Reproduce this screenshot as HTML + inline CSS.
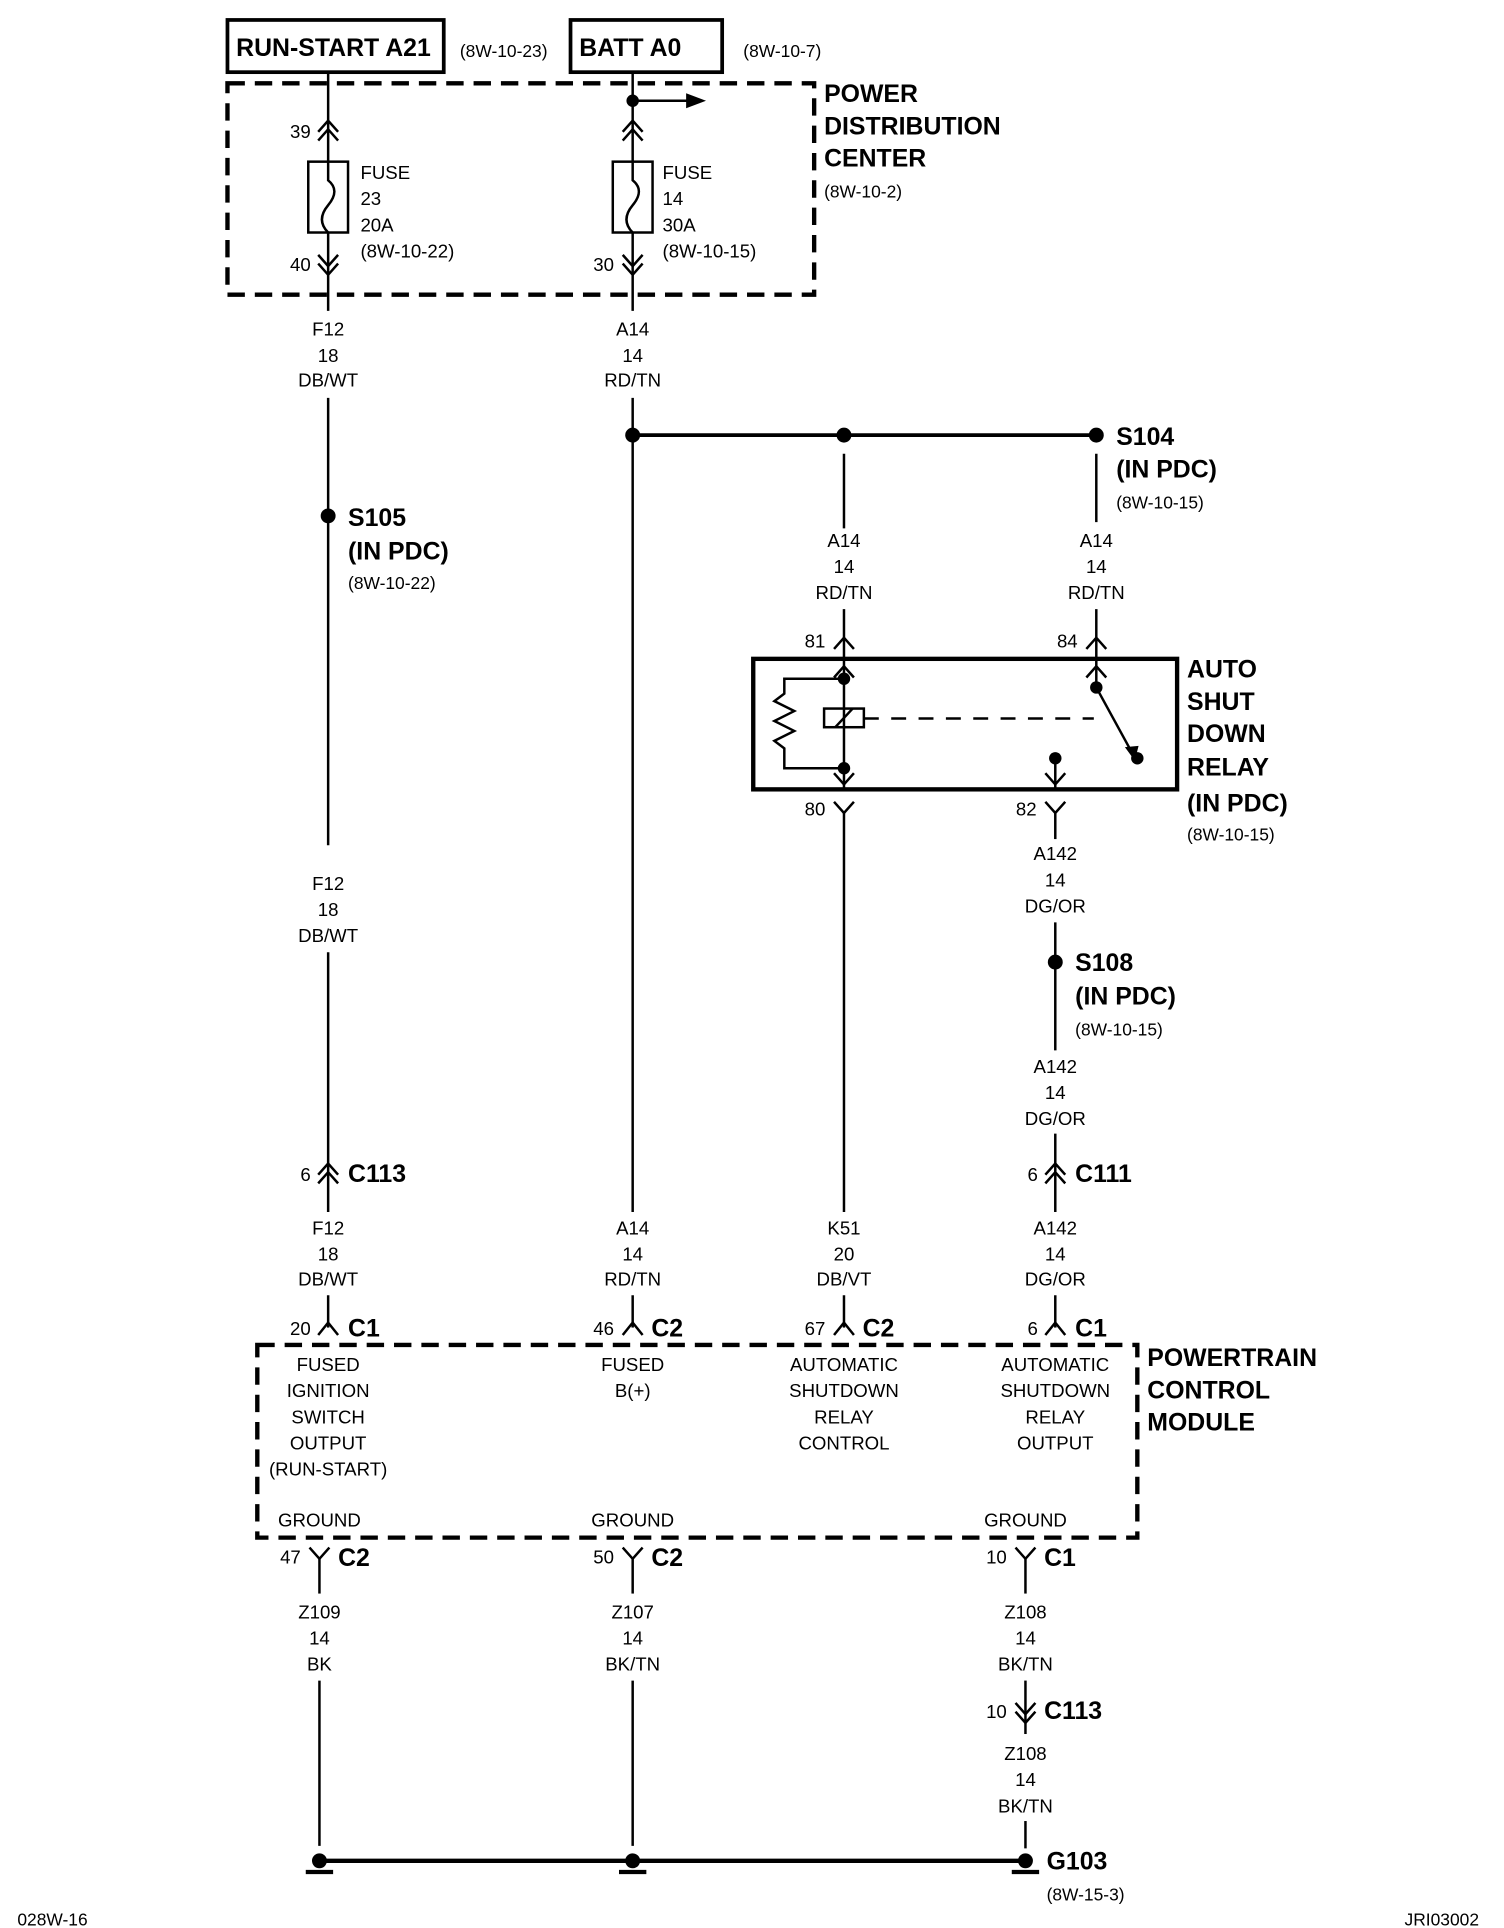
<!DOCTYPE html>
<html><head><meta charset="utf-8"><style>
html,body{margin:0;padding:0;background:#fff;}
svg{display:block;}
text{font-family:"Liberation Sans Narrow","Liberation Sans",sans-serif;fill:#000;}
.w{font-size:15px;text-anchor:middle;}
.s{font-size:14px;}
.b{font-size:20px;font-weight:bold;}
.c{font-size:15px;text-anchor:end;}
</style></head><body>
<svg width="1504" height="1928" viewBox="0 0 1210 1551" xmlns="http://www.w3.org/2000/svg">
<g stroke="#000" stroke-width="2" fill="none">
<!-- top boxes -->
<rect x="183" y="16" width="174" height="42" stroke-width="3"/>
<rect x="459" y="16" width="122" height="42" stroke-width="3"/>
<rect x="183" y="67" width="472" height="170" stroke-width="3.5" stroke-dasharray="14,8"/>
<rect x="207" y="1082" width="708" height="155" stroke-width="3.5" stroke-dasharray="14,8"/>
<!-- wire 264 -->
<line x1="264" y1="58" x2="264" y2="250"/>
<line x1="264" y1="320" x2="264" y2="680"/>
<line x1="264" y1="766" x2="264" y2="975"/>
<line x1="264" y1="1042" x2="264" y2="1068"/>
<rect x="248" y="130" width="32" height="57" fill="#fff"/>
<path d="M264 130v15q10 8 0 20t0 22"/>
<path d="M256 106l8-9 8 9M256 113l8-9 8 9"/>
<path d="M256 205l8 9 8-9M256 212l8 9 8-9"/>
<!-- wire 509 -->
<line x1="509" y1="58" x2="509" y2="250"/>
<line x1="509" y1="320" x2="509" y2="975"/>
<line x1="509" y1="1042" x2="509" y2="1068"/>
<line x1="509" y1="81" x2="555" y2="81"/>
<rect x="493" y="130" width="32" height="57" fill="#fff"/>
<path d="M509 130v15q10 8 0 20t0 22"/>
<path d="M501 106l8-9 8 9M501 113l8-9 8 9"/>
<path d="M501 205l8 9 8-9M501 212l8 9 8-9"/>
<!-- bus 350 -->
<line x1="509" y1="350" x2="882" y2="350" stroke-width="3"/>
<line x1="679" y1="365" x2="679" y2="425"/>
<line x1="882" y1="365" x2="882" y2="420"/>
<line x1="679" y1="490" x2="679" y2="635"/>
<line x1="882" y1="490" x2="882" y2="553"/>
<path d="M671 522l8-9 8 9M874 522l8-9 8 9"/>
<path d="M671 545l8-9 8 9M874 545l8-9 8 9"/>
<!-- relay -->
<rect x="606" y="530" width="341" height="105" stroke-width="3.5"/>
<path d="M679 546h-48v12l-8 6 16 8-16 8 16 8-16 8 8 6v16h48"/>
<rect x="663" y="570" width="32" height="15"/>
<line x1="672" y1="585" x2="686" y2="570"/>
<line x1="695" y1="578" x2="880" y2="578" stroke-dasharray="12,10"/>
<line x1="882" y1="553" x2="911" y2="606"/>
<line x1="849" y1="610" x2="849" y2="635"/>
<path d="M841 622l8 9 8-9M671 622l8 9 8-9"/>
<path d="M671 645l8 9 8-9M841 645l8 9 8-9"/>
<line x1="679" y1="654" x2="679" y2="975"/>
<line x1="849" y1="654" x2="849" y2="675"/>
<line x1="849" y1="742" x2="849" y2="845"/>
<line x1="849" y1="912" x2="849" y2="975"/>
<line x1="849" y1="1042" x2="849" y2="1068"/>
<line x1="679" y1="1042" x2="679" y2="1068"/>
<!-- C113/C111 -->
<path d="M256 945l8-9 8 9M256 952l8-9 8 9"/>
<path d="M841 945l8-9 8 9M841 952l8-9 8 9"/>
<!-- PCM top connectors -->
<path d="M256 1074l8-10 8 10M501 1074l8-10 8 10M671 1074l8-10 8 10M841 1074l8-10 8 10"/>
<!-- ground -->
<path d="M249 1245l8 9 8-9M501 1245l8 9 8-9M817 1245l8 9 8-9"/>
<line x1="257" y1="1254" x2="257" y2="1282"/>
<line x1="509" y1="1254" x2="509" y2="1282"/>
<line x1="825" y1="1254" x2="825" y2="1282"/>
<line x1="257" y1="1352" x2="257" y2="1485"/>
<line x1="509" y1="1352" x2="509" y2="1485"/>
<line x1="825" y1="1352" x2="825" y2="1395"/>
<path d="M817 1370l8 9 8-9M817 1377l8 9 8-9"/>
<line x1="825" y1="1465" x2="825" y2="1487"/>
<line x1="262" y1="1497" x2="820" y2="1497" stroke-width="3.5"/>
<path d="M246 1506h22M498 1506h22M814 1506h22" stroke-width="3.5"/>
</g>
<g fill="#000">
<polygon points="552,75 568,81 552,87"/>
<circle cx="509" cy="81" r="5"/>
<circle cx="509" cy="350" r="6"/><circle cx="679" cy="350" r="6"/><circle cx="882" cy="350" r="6"/>
<circle cx="264" cy="415" r="6"/><circle cx="849" cy="774" r="6"/>
<circle cx="679" cy="546" r="5"/><circle cx="679" cy="618" r="5"/>
<circle cx="882" cy="553" r="5"/><circle cx="915" cy="610" r="5"/><circle cx="849" cy="610" r="5"/>
<polygon points="905,601 913,612 916,600"/>
<circle cx="257" cy="1497" r="6"/><circle cx="509" cy="1497" r="6"/><circle cx="825" cy="1497" r="6"/>
</g>
<text class="b" x="190" y="45">RUN-START A21</text>
<text class="s" x="370" y="46">(8W-10-23)</text>
<text class="b" x="466" y="45">BATT A0</text>
<text class="s" x="598" y="46">(8W-10-7)</text>
<text class="b" x="663" y="82">POWER</text>
<text class="b" x="663" y="108">DISTRIBUTION</text>
<text class="b" x="663" y="134">CENTER</text>
<text class="s" x="663" y="159">(8W-10-2)</text>
<text class="c" x="250" y="111">39</text><text class="c" x="250" y="218">40</text>
<text class="c" x="494" y="218">30</text>
<text class="w" x="290" y="144" text-anchor="start" style="text-anchor:start">FUSE</text>
<text class="w" x="290" y="165" style="text-anchor:start">23</text>
<text class="w" x="290" y="186" style="text-anchor:start">20A</text>
<text class="w" x="290" y="207" style="text-anchor:start">(8W-10-22)</text>
<text class="w" x="533" y="144" style="text-anchor:start">FUSE</text>
<text class="w" x="533" y="165" style="text-anchor:start">14</text>
<text class="w" x="533" y="186" style="text-anchor:start">30A</text>
<text class="w" x="533" y="207" style="text-anchor:start">(8W-10-15)</text>
<text class="w" x="264" y="270">F12</text><text class="w" x="264" y="291">18</text><text class="w" x="264" y="311">DB/WT</text>
<text class="w" x="509" y="270">A14</text><text class="w" x="509" y="291">14</text><text class="w" x="509" y="311">RD/TN</text>
<text class="b" x="898" y="358">S104</text><text class="b" x="898" y="384">(IN PDC)</text><text class="s" x="898" y="409">(8W-10-15)</text>
<text class="b" x="280" y="423">S105</text><text class="b" x="280" y="450">(IN PDC)</text><text class="s" x="280" y="474">(8W-10-22)</text>
<text class="w" x="679" y="440">A14</text><text class="w" x="679" y="461">14</text><text class="w" x="679" y="482">RD/TN</text>
<text class="w" x="882" y="440">A14</text><text class="w" x="882" y="461">14</text><text class="w" x="882" y="482">RD/TN</text>
<text class="c" x="664" y="521">81</text><text class="c" x="867" y="521">84</text>
<text class="c" x="664" y="656">80</text><text class="c" x="834" y="656">82</text>
<text class="b" x="955" y="545">AUTO</text><text class="b" x="955" y="571">SHUT</text><text class="b" x="955" y="597">DOWN</text><text class="b" x="955" y="624">RELAY</text><text class="b" x="955" y="653">(IN PDC)</text><text class="s" x="955" y="676">(8W-10-15)</text>
<text class="w" x="264" y="716">F12</text><text class="w" x="264" y="737">18</text><text class="w" x="264" y="758">DB/WT</text>
<text class="w" x="849" y="692">A142</text><text class="w" x="849" y="713">14</text><text class="w" x="849" y="734">DG/OR</text>
<text class="b" x="865" y="781">S108</text><text class="b" x="865" y="808">(IN PDC)</text><text class="s" x="865" y="833">(8W-10-15)</text>
<text class="w" x="849" y="863">A142</text><text class="w" x="849" y="884">14</text><text class="w" x="849" y="905">DG/OR</text>
<text class="c" x="250" y="950">6</text><text class="b" x="280" y="951">C113</text>
<text class="c" x="835" y="950">6</text><text class="b" x="865" y="951">C111</text>
<text class="w" x="264" y="993">F12</text><text class="w" x="264" y="1014">18</text><text class="w" x="264" y="1034">DB/WT</text>
<text class="w" x="509" y="993">A14</text><text class="w" x="509" y="1014">14</text><text class="w" x="509" y="1034">RD/TN</text>
<text class="w" x="679" y="993">K51</text><text class="w" x="679" y="1014">20</text><text class="w" x="679" y="1034">DB/VT</text>
<text class="w" x="849" y="993">A142</text><text class="w" x="849" y="1014">14</text><text class="w" x="849" y="1034">DG/OR</text>
<text class="c" x="250" y="1074">20</text><text class="b" x="280" y="1075">C1</text>
<text class="c" x="494" y="1074">46</text><text class="b" x="524" y="1075">C2</text>
<text class="c" x="664" y="1074">67</text><text class="b" x="694" y="1075">C2</text>
<text class="c" x="835" y="1074">6</text><text class="b" x="865" y="1075">C1</text>
<text class="b" x="923" y="1099">POWERTRAIN</text><text class="b" x="923" y="1125">CONTROL</text><text class="b" x="923" y="1151">MODULE</text>
<text class="w" x="264" y="1103">FUSED</text><text class="w" x="264" y="1124">IGNITION</text><text class="w" x="264" y="1145">SWITCH</text><text class="w" x="264" y="1166">OUTPUT</text><text class="w" x="264" y="1187">(RUN-START)</text>
<text class="w" x="509" y="1103">FUSED</text><text class="w" x="509" y="1124">B(+)</text>
<text class="w" x="679" y="1103">AUTOMATIC</text><text class="w" x="679" y="1124">SHUTDOWN</text><text class="w" x="679" y="1145">RELAY</text><text class="w" x="679" y="1166">CONTROL</text>
<text class="w" x="849" y="1103">AUTOMATIC</text><text class="w" x="849" y="1124">SHUTDOWN</text><text class="w" x="849" y="1145">RELAY</text><text class="w" x="849" y="1166">OUTPUT</text>
<text class="w" x="257" y="1228">GROUND</text><text class="w" x="509" y="1228">GROUND</text><text class="w" x="825" y="1228">GROUND</text>
<text class="c" x="242" y="1258">47</text><text class="b" x="272" y="1260">C2</text>
<text class="c" x="494" y="1258">50</text><text class="b" x="524" y="1260">C2</text>
<text class="c" x="810" y="1258">10</text><text class="b" x="840" y="1260">C1</text>
<text class="w" x="257" y="1302">Z109</text><text class="w" x="257" y="1323">14</text><text class="w" x="257" y="1344">BK</text>
<text class="w" x="509" y="1302">Z107</text><text class="w" x="509" y="1323">14</text><text class="w" x="509" y="1344">BK/TN</text>
<text class="w" x="825" y="1302">Z108</text><text class="w" x="825" y="1323">14</text><text class="w" x="825" y="1344">BK/TN</text>
<text class="c" x="810" y="1382">10</text><text class="b" x="840" y="1383">C113</text>
<text class="w" x="825" y="1416">Z108</text><text class="w" x="825" y="1437">14</text><text class="w" x="825" y="1458">BK/TN</text>
<text class="b" x="842" y="1504">G103</text><text class="s" x="842" y="1529">(8W-15-3)</text>
<text class="s" x="14" y="1549">028W-16</text>
<text class="s" x="1130" y="1549">JRI03002</text>
</svg>
</body></html>
